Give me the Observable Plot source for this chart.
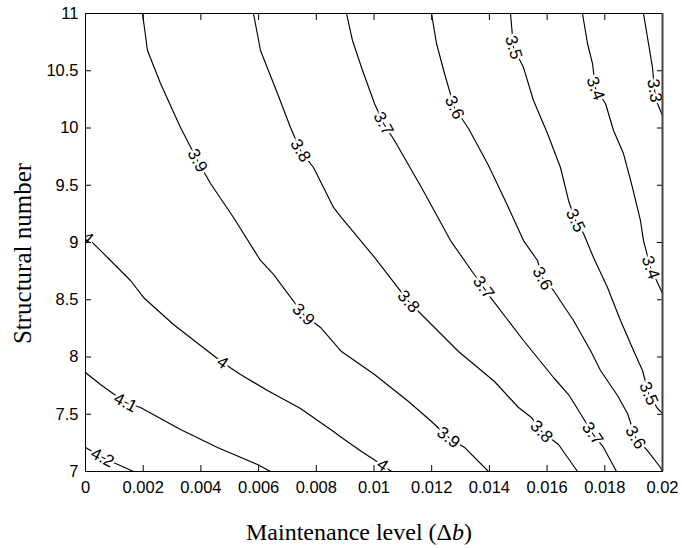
<!DOCTYPE html>
<html>
<head>
<meta charset="utf-8">
<script src="https://cdn.jsdelivr.net/npm/d3@7"></script>
<script src="https://cdn.jsdelivr.net/npm/@observablehq/plot@0.6"></script>
<style>
html,body{margin:0;padding:0;background:#fff;}
#chart{width:682px;height:548px;}
</style>
</head>
<body>
<div id="chart"></div>
<script>
// ---- Data ----
const xTicks = [0, 0.002, 0.004, 0.006, 0.008, 0.01, 0.012, 0.014, 0.016, 0.018, 0.02];
const xTickLabels = ["0", "0.002", "0.004", "0.006", "0.008", "0.01", "0.012", "0.014", "0.016", "0.018", "0.02"];
const yTicks = [7, 7.5, 8, 8.5, 9, 9.5, 10, 10.5, 11];
const yTickLabels = ["7", "7.5", "8", "8.5", "9", "9.5", "10", "10.5", "11"];
const xTitle = "Maintenance level (Δb)";
const yTitle = "Structural number";

const levels = [3.3, 3.4, 3.5, 3.6, 3.7, 3.8, 3.9, 4.0, 4.1, 4.2];

const c33 = [[0.019341,11.0],[0.019515,10.738],[0.019653,10.528],[0.019723,10.328],[0.019827,10.214],[0.02,10.109]];
const c34 = [[0.017227,11.0],[0.0174,10.738],[0.017574,10.563],[0.017678,10.345],[0.018024,10.214],[0.018302,9.978],[0.018648,9.777],[0.01896,9.480],[0.019237,9.192],[0.019341,9.017],[0.019584,8.782],[0.02,8.555]];
const c35 = [[0.014731,11.0],[0.014835,10.703],[0.015182,10.528],[0.015529,10.240],[0.016014,9.952],[0.016464,9.655],[0.016742,9.367],[0.016984,9.192],[0.017262,9.079],[0.017608,8.869],[0.018094,8.607],[0.018544,8.319],[0.018995,8.057],[0.019307,7.882],[0.019515,7.681],[0.019827,7.55],[0.02,7.507]];
const c36 = [[0.011993,11.0],[0.012166,10.738],[0.012444,10.476],[0.012686,10.266],[0.01279,10.179],[0.013276,9.996],[0.013969,9.672],[0.014627,9.323],[0.015182,9.017],[0.015667,8.843],[0.01584,8.686],[0.016222,8.581],[0.016915,8.319],[0.017504,8.057],[0.017851,7.882],[0.01844,7.664],[0.018787,7.507],[0.019064,7.297],[0.01948,7.183],[0.019931,7.035],[0.02,7.0]];
const c37 = [[0.009047,11.0],[0.009255,10.764],[0.009567,10.528],[0.010017,10.214],[0.010329,10.039],[0.01071,9.891],[0.011646,9.480],[0.012652,9.017],[0.013449,8.729],[0.013795,8.607],[0.014038,8.520],[0.015182,8.144],[0.016222,7.821],[0.016742,7.672],[0.016984,7.576],[0.017574,7.332],[0.017955,7.210],[0.018406,7.0]];
const c38 = [[0.005823,11.0],[0.006066,10.677],[0.006655,10.301],[0.007106,10.004],[0.007452,9.803],[0.007903,9.655],[0.008596,9.306],[0.008873,9.218],[0.010052,8.860],[0.011196,8.485],[0.01175,8.345],[0.012929,8.048],[0.014177,7.786],[0.015009,7.559],[0.015459,7.472],[0.015806,7.349],[0.016395,7.236],[0.017054,7.0]];
const c39 = [[0.001976,11.0],[0.002149,10.677],[0.0026,10.389],[0.003293,10.004],[0.003882,9.716],[0.004333,9.515],[0.00513,9.218],[0.006066,8.843],[0.006516,8.721],[0.007556,8.371],[0.008146,8.258],[0.008873,8.048],[0.010017,7.847],[0.011196,7.611],[0.011993,7.437],[0.012582,7.297],[0.013137,7.210],[0.013969,7.0]];
const c40 = [[0,9.052],[0.000173,9.017],[0.000867,8.843],[0.00156,8.668],[0.00201,8.520],[0.00305,8.284],[0.003986,8.100],[0.004749,7.952],[0.005373,7.847],[0.006308,7.707],[0.007452,7.550],[0.008596,7.349],[0.008873,7.297],[0.009567,7.175],[0.01026,7.061],[0.010607,7.0]];
const c41 = [[0,7.865],[0.00052,7.760],[0.001386,7.603],[0.001906,7.559],[0.003293,7.367],[0.004575,7.210],[0.005962,7.061],[0.006412,7.0]];
const c42 = [[0,7.210],[0.000589,7.122],[0.000971,7.079],[0.001664,7.0]];
const contourPoints = [c33, c34, c35, c36, c37, c38, c39, c40, c41, c42];

// contour labels (level, approximate position)
const labelLevel = [3.3, 3.4, 3.4, 3.5, 3.5, 3.5, 3.6, 3.6, 3.6, 3.7, 3.7, 3.7, 3.8, 3.8, 3.8, 3.9, 3.9, 3.9, 4.0, 4.0, 4.0, 4.1, 4.2];
const labelX = [0.019723, 0.017678, 0.019584, 0.014835, 0.016984, 0.019515, 0.01279, 0.01584, 0.019064, 0.010329, 0.013795, 0.017574, 0.007452, 0.011196, 0.015806, 0.003882, 0.007556, 0.012582, 0.000104, 0.004749, 0.01026, 0.001386, 0.000589];
const labelY = [10.328, 10.345, 8.782, 10.703, 9.192, 7.681, 10.179, 8.686, 7.297, 10.039, 8.607, 7.332, 9.803, 8.485, 7.349, 9.716, 8.371, 7.297, 9.052, 7.952, 7.044, 7.603, 7.122];

// ---- Layout ----
const W = 682, H = 548, mL = 85, mR = 20, mT = 13, mB = 77;
const sx = Plot.scale({x: {domain: [0, 0.02], range: [mL, W - mR]}});
const sy = Plot.scale({y: {domain: [7, 11], range: [H - mB, mT]}});

const lineRows = levels.flatMap((lv, i) => contourPoints[i].map(([x, y]) => ({level: lv, x, y})));

function placeLabel(level, lx, ly) {
  const pts = contourPoints[levels.indexOf(level)].map(([x, y]) => [sx.apply(x), sy.apply(y)]);
  const px = sx.apply(lx), py = sy.apply(ly);
  const cum = [0];
  for (let i = 1; i < pts.length; i++) cum.push(cum[i - 1] + Math.hypot(pts[i][0] - pts[i - 1][0], pts[i][1] - pts[i - 1][1]));
  const total = cum[cum.length - 1];
  let best = {d: Infinity, s: 0, p: pts[0]};
  for (let i = 0; i < pts.length - 1; i++) {
    const [x0, y0] = pts[i], [x1, y1] = pts[i + 1];
    const dx = x1 - x0, dy = y1 - y0, L2 = dx * dx + dy * dy;
    let t = L2 ? ((px - x0) * dx + (py - y0) * dy) / L2 : 0;
    t = Math.max(0, Math.min(1, t));
    const qx = x0 + t * dx, qy = y0 + t * dy;
    const d = Math.hypot(px - qx, py - qy);
    if (d < best.d) best = {d, s: cum[i] + t * Math.sqrt(L2), p: [qx, qy]};
  }
  const at = s => {
    s = Math.max(0, Math.min(total, s));
    for (let i = 0; i < pts.length - 1; i++) {
      if (s <= cum[i + 1]) {
        const seg = cum[i + 1] - cum[i] || 1;
        const t = (s - cum[i]) / seg;
        return [pts[i][0] + t * (pts[i + 1][0] - pts[i][0]), pts[i][1] + t * (pts[i + 1][1] - pts[i][1])];
      }
    }
    return pts[pts.length - 1];
  };
  const a = at(best.s - 10), b = at(best.s + 10);
  let ang = Math.atan2(b[1] - a[1], b[0] - a[0]) * 180 / Math.PI;
  if (ang > 90) ang -= 180;
  if (ang < -90) ang += 180;
  return {x: sx.invert(best.p[0]), y: sy.invert(best.p[1]), text: String(level), rotate: ang};
}
const labelRows = labelLevel.map((lv, i) => placeLabel(lv, labelX[i], labelY[i]));

const serif = "'Liberation Serif', 'Times New Roman', serif";

const plot = Plot.plot({
  width: W,
  height: H,
  marginLeft: mL,
  marginRight: mR,
  marginTop: mT,
  marginBottom: mB,
  x: {domain: [0, 0.02]},
  y: {domain: [7, 11]},
  style: {fontFamily: "'Liberation Sans', Arial, sans-serif", fontSize: "16.5px", color: "black", background: "white"},
  marks: [
    Plot.line(lineRows, {x: "x", y: "y", z: "level", stroke: "black", strokeWidth: 1.15}),
    Plot.text(labelRows, {x: "x", y: "y", text: "text", rotate: "rotate", fill: "black", stroke: "white", strokeWidth: 5, fontSize: 17, clip: true}),
    Plot.axisX({ticks: xTicks, tickFormat: d => xTickLabels[xTicks.indexOf(d)], tickSize: 0, tickPadding: 10, label: null}),
    Plot.axisX({anchor: "bottom", ticks: xTicks, tickFormat: () => "", tickSize: -6, label: null}),
    Plot.axisX({anchor: "top", ticks: xTicks, tickFormat: () => "", tickSize: -6, label: null}),
    Plot.axisY({ticks: yTicks, tickFormat: d => yTickLabels[yTicks.indexOf(d)], tickSize: 0, tickPadding: 7, label: null}),
    Plot.axisY({anchor: "left", ticks: yTicks, tickFormat: () => "", tickSize: -6, label: null}),
    Plot.axisY({anchor: "right", ticks: yTicks, tickFormat: () => "", tickSize: -6, label: null}),
    Plot.frame({stroke: "black", strokeWidth: 1}),
    Plot.ruleX([xTicks[xTicks.length - 1]], {stroke: "#444", strokeWidth: 2}),
    Plot.text([xTitle], {text: d => d, frameAnchor: "bottom", textAnchor: "middle", lineAnchor: "middle", dy: 61, dx: -15, fontFamily: serif, fontSize: 24, fill: "black"}),
    Plot.text([yTitle], {text: d => d, frameAnchor: "left", textAnchor: "middle", lineAnchor: "middle", dx: -63, dy: 11, rotate: -90, fontFamily: serif, fontSize: 25, fill: "black"})
  ]
});

// italic "b" in the x title
d3.select(plot).selectAll("text").filter(function () { return this.textContent === xTitle; }).each(function () {
  const t = d3.select(this);
  t.text(null);
  t.append("tspan").text("Maintenance level (");
  t.append("tspan").text("Δ");
  t.append("tspan").attr("font-style", "italic").text("b");
  t.append("tspan").text(")");
});

document.getElementById("chart").appendChild(plot);
</script>
</body>
</html>
